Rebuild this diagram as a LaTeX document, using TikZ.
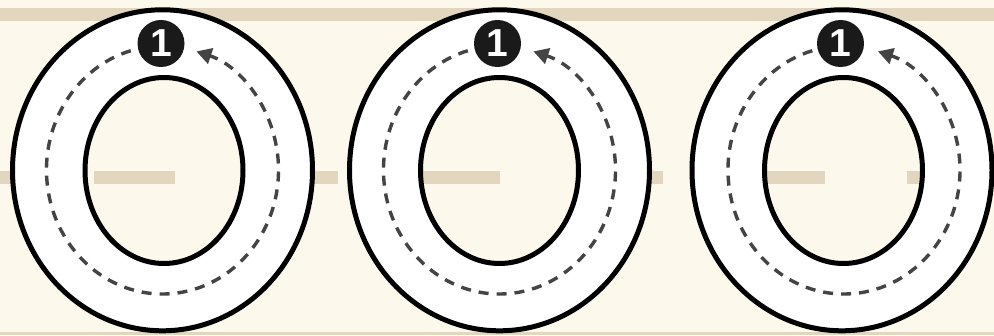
\documentclass[tikz,border=0pt]{standalone}
\usepackage{fontspec}
\setmainfont{Liberation Sans}
\usetikzlibrary{arrows.meta}
\definecolor{cream}{HTML}{FDF8EC}
\definecolor{tan}{HTML}{E2D6BF}
\definecolor{badgeblack}{HTML}{1A1A1A}
\definecolor{dashgray}{HTML}{444444}
\tikzset{
  band/.style={fill=tan, draw=none},
  midline/.style={draw=tan, line width=13pt, dash pattern=on 81pt off 81.5pt, dash phase=68.5pt},
  ringfill/.style={fill=white, even odd rule, draw=none},
  ringline/.style={draw=black, line width=5pt},
  pathline/.style={draw=dashgray, line width=3.4pt, dash pattern=on 10pt off 8pt, -{Triangle[length=15pt,width=16pt,fill=dashgray]}},
  badge/.style={circle, fill=badgeblack, minimum size=47pt, inner sep=0pt, text=white,
    font=\bfseries\fontsize{39}{39}\selectfont}
}
\begin{document}
\begin{tikzpicture}[x=1pt,y=1pt]
\useasboundingbox (0,0) rectangle (994,335);
\fill[cream] (0,0) rectangle (994,335);
% top band and bottom band
\path[band] (0,313.5) rectangle (994,326.5);
\path[band] (0,0) rectangle (994,3);
% middle dashed band
\draw[midline] (0,157.5) -- (994,157.5);
% rings
\foreach \i/\co/\ci/\cd/\cb in {1/162.5/164/162.5/161, 2/499.5/499.5/499.5/497.5, 3/842/843.5/844/840.5}{
  \path[ringfill] (\co,164.7) ellipse[x radius=150pt, y radius=160.5pt]
                  (\ci,164.5) ellipse[x radius=79pt, y radius=93pt];
  \draw[ringline] (\co,164.7) ellipse[x radius=150pt, y radius=160.5pt];
  \draw[ringline] (\ci,164.5) ellipse[x radius=79pt, y radius=93pt];
  \draw[pathline] (\cd,165) ++(97:116pt and 124pt)
     arc[start angle=97, end angle=433, x radius=116pt, y radius=124pt];
  \node[badge] (badge\i) at (\cb,291.5) {1};
}
\end{tikzpicture}
\end{document}
